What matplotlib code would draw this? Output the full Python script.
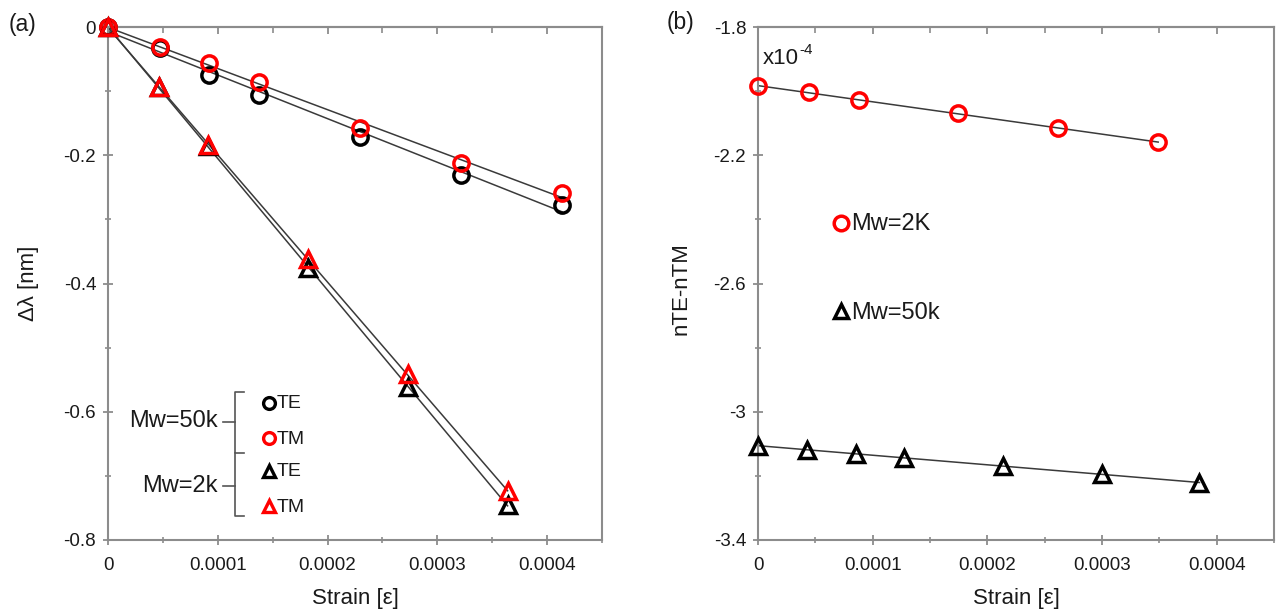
import numpy as np
import matplotlib
matplotlib.use('Agg')
import matplotlib.pyplot as plt
from matplotlib.lines import Line2D
from matplotlib.transforms import Affine2D

plt.rcParams['font.family'] = ['Liberation Sans', 'DejaVu Sans']

# ---------------- data: panel (a) ----------------
strain_a_50k = [0, 0.0000473, 0.0000918, 0.000138, 0.000230, 0.000322, 0.000414]
dlam_te_50k = [0, -0.033, -0.075, -0.106, -0.171, -0.231, -0.278]
dlam_tm_50k = [0, -0.031, -0.056, -0.086, -0.158, -0.212, -0.259]
strain_a_2k = [0, 0.0000464, 0.0000909, 0.000182, 0.000273, 0.000364]
dlam_te_2k = [0, -0.094, -0.186, -0.376, -0.561, -0.745]
dlam_tm_2k = [0, -0.093, -0.184, -0.362, -0.541, -0.724]

# ---------------- data: panel (b) (units of 1e-4) ----------------
strain_b_2k = [0, 0.0000445, 0.000088, 0.000174, 0.000262, 0.000349]
dn_2k = [-1.984, -2.004, -2.028, -2.069, -2.116, -2.159]
strain_b_50k = [0, 0.0000427, 0.0000854, 0.000127, 0.000214, 0.000300, 0.000385]
dn_50k = [-3.106, -3.119, -3.131, -3.144, -3.169, -3.194, -3.222]

x_ticks = [0, 0.0001, 0.0002, 0.0003, 0.0004]
x_minor = [0.00005, 0.00015, 0.00025, 0.00035, 0.00045]
x_ticklabels = ['0', '0.0001', '0.0002', '0.0003', '0.0004']
ya_ticks = [0, -0.2, -0.4, -0.6, -0.8]
ya_ticklabels = ['0', '-0.2', '-0.4', '-0.6', '-0.8']
yb_ticks = [-1.8, -2.2, -2.6, -3.0, -3.4]
yb_ticklabels = ['-1.8', '-2.2', '-2.6', '-3', '-3.4']

W, H = 1276, 610
fig = plt.figure(figsize=(W / 100, H / 100), dpi=100)
pix = Affine2D().scale(1 / W, -1 / H).translate(0, 1) + fig.transFigure

SPINE = '#8c8c8c'
LINE = '#3a3a3a'
RED = '#ff0000'
TXT = '#1a1a1a'


def make_axes(left, top, right, bottom):
    ax = fig.add_axes([left / W, 1 - bottom / H, (right - left) / W, (bottom - top) / H])
    for s in ax.spines.values():
        s.set_color(SPINE)
        s.set_linewidth(1.5)
    ax.set_xlim(0, 0.00045)
    ax.set_xticks(x_ticks)
    ax.set_xticklabels(x_ticklabels)
    ax.set_xticks(x_minor, minor=True)
    ax.tick_params(axis='both', which='major', direction='inout', length=7, width=1.3,
                   color=SPINE, labelsize=13.5, labelcolor=TXT)
    ax.tick_params(axis='both', which='minor', direction='inout', length=4.5, width=1.2,
                   color=SPINE)
    ax.tick_params(axis='x', which='major', pad=9)
    ax.tick_params(axis='y', which='major', pad=5)
    sec = ax.secondary_xaxis('top')
    sec.set_xticks(x_ticks)
    sec.set_xticks(x_minor, minor=True)
    sec.tick_params(axis='x', which='major', direction='in', length=5, width=1.3,
                    color=SPINE, labeltop=False)
    sec.tick_params(axis='x', which='minor', direction='in', length=4, width=1.2,
                    color=SPINE)
    sec.spines['top'].set_color(SPINE)
    sec.spines['top'].set_linewidth(1.5)
    return ax


def fit_line(ax, x, y):
    p = np.polyfit(x, y, 1)
    xx = np.array([0, max(x)])
    ax.plot(xx, np.polyval(p, xx), color=LINE, lw=1.1, zorder=2)


# ---------------- panel (a) ----------------
axa = make_axes(108, 27, 602, 540)
axa.set_ylim(-0.8, 0)
axa.set_yticks(ya_ticks)
axa.set_yticklabels(ya_ticklabels)
axa.set_yticks([-0.1, -0.3, -0.5, -0.7], minor=True)

for x, y in [(strain_a_50k, dlam_te_50k), (strain_a_50k, dlam_tm_50k),
             (strain_a_2k, dlam_te_2k), (strain_a_2k, dlam_tm_2k)]:
    fit_line(axa, x, y)

mk = dict(ls='none', mfc='none', zorder=3, clip_on=False)
axa.plot(strain_a_50k, dlam_te_50k, marker='o', ms=11, mew=2.5, mec='black', **mk)
axa.plot(strain_a_50k, dlam_tm_50k, marker='o', ms=11, mew=2.5, mec=RED, **mk)
axa.plot(strain_a_2k, dlam_te_2k, marker='^', ms=11, mew=2.5, mec='black', **mk)
axa.plot(strain_a_2k, dlam_tm_2k, marker='^', ms=11, mew=2.5, mec=RED, **mk)

axa.set_xlabel('Strain [ε]', fontsize=16, color=TXT)
axa.xaxis.set_label_coords(0.5, -0.115)
axa.xaxis.label.set_va('center')
axa.set_ylabel('Δλ [nm]', fontsize=16, color=TXT)
axa.yaxis.set_label_coords(-0.160, 0.5)
axa.yaxis.label.set_va('center')

# ---------------- panel (b) ----------------
axb = make_axes(758, 27, 1274, 540)
axb.set_ylim(-3.4, -1.8)
axb.set_yticks(yb_ticks)
axb.set_yticklabels(yb_ticklabels)
axb.set_yticks([-2.0, -2.4, -2.8, -3.2], minor=True)

fit_line(axb, strain_b_2k, dn_2k)
fit_line(axb, strain_b_50k, dn_50k)
axb.plot(strain_b_2k, dn_2k, marker='o', ms=11, mew=2.5, mec=RED, **mk)
axb.plot(strain_b_50k, dn_50k, marker='^', ms=11, mew=2.5, mec='black', **mk)

axb.set_xlabel('Strain [ε]', fontsize=16, color=TXT)
axb.xaxis.set_label_coords(0.5, -0.115)
axb.xaxis.label.set_va('center')
axb.set_ylabel('nTE-nTM', fontsize=16, color=TXT)
axb.yaxis.set_label_coords(-0.150, 0.49)
axb.yaxis.label.set_va('center')

# ---------------- annotations ----------------
fig.text(22 / W, 1 - 25 / H, '(a)', fontsize=16.5, color=TXT, ha='center', va='center')
fig.text(681 / W, 1 - 22 / H, '(b)', fontsize=16.5, color=TXT, ha='center', va='center')
fig.text(763 / W, 1 - 64 / H, 'x10', fontsize=16, color=TXT, ha='left', va='baseline')
fig.text(799 / W, 1 - 54 / H, '-4', fontsize=11, color=TXT, ha='left', va='baseline')

# legend panel (b)
fig.add_artist(Line2D([841], [223], transform=pix, marker='o', ms=10.5, mew=2.5, mec=RED, mfc='none'))
fig.add_artist(Line2D([841], [311], transform=pix, marker='^', ms=10.5, mew=2.5, mec='black', mfc='none'))
fig.text(851 / W, 1 - 224 / H, 'Mw=2K', fontsize=17, color=TXT, ha='left', va='center')
fig.text(851 / W, 1 - 313 / H, 'Mw=50k', fontsize=17, color=TXT, ha='left', va='center')

# legend panel (a) with brackets
bk = dict(transform=pix, color='#555555', lw=1.2)
fig.add_artist(Line2D([244, 235, 235, 244], [392, 392, 453, 453], **bk))
fig.add_artist(Line2D([235, 235, 244], [453, 516, 516], **bk))
fig.add_artist(Line2D([223, 235], [422, 422], **bk))
fig.add_artist(Line2D([223, 235], [486, 486], **bk))
fig.text(218 / W, 1 - 421 / H, 'Mw=50k', fontsize=17, color=TXT, ha='right', va='center')
fig.text(218 / W, 1 - 486 / H, 'Mw=2k', fontsize=17, color=TXT, ha='right', va='center')

leg_rows = [('o', 'black', 'TE', 403), ('o', RED, 'TM', 438),
            ('^', 'black', 'TE', 471), ('^', RED, 'TM', 506)]
for m, c, lab, yy in leg_rows:
    fig.add_artist(Line2D([269], [yy], transform=pix, marker=m, ms=8.5, mew=2.4, mec=c, mfc='none'))
    fig.text(277 / W, 1 - (yy + 1) / H, lab, fontsize=14, color=TXT, ha='left', va='center')

fig.savefig('out.png', dpi=100)
